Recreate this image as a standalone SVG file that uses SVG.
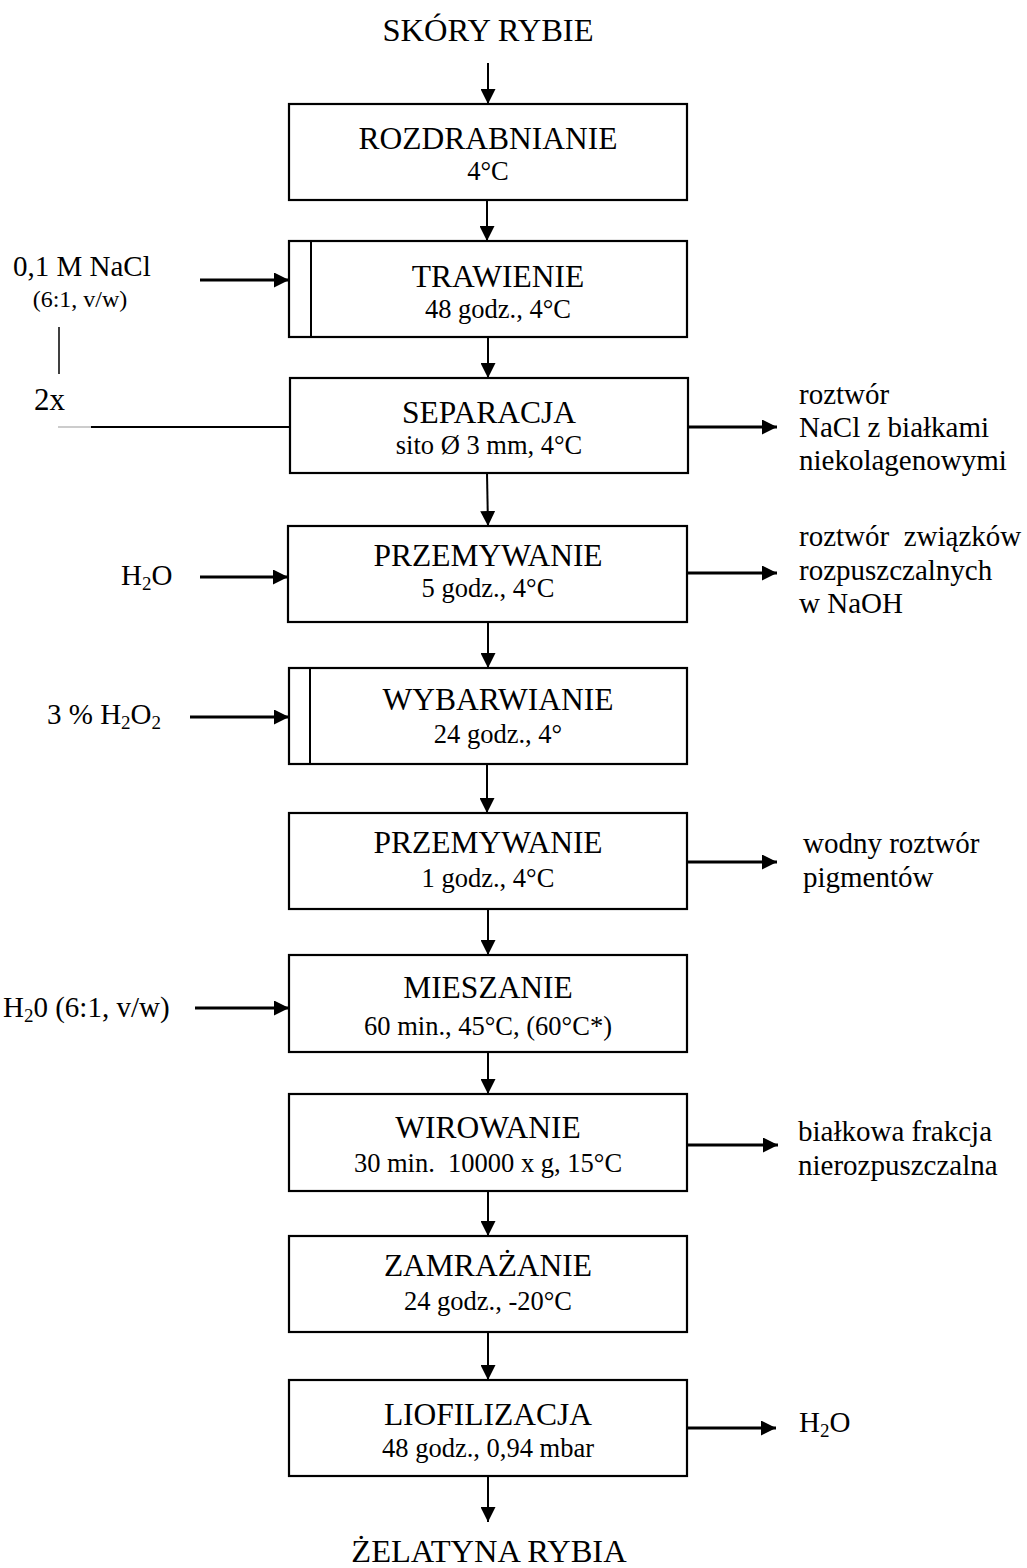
<svg xmlns="http://www.w3.org/2000/svg" width="1027" height="1568" viewBox="0 0 1027 1568">
<style>
text{font-family:"Liberation Serif","Times New Roman",serif;fill:#000}
.t{font-size:31.5px;text-anchor:middle}
.s{font-size:26.5px;text-anchor:middle}
.e{font-size:32.5px;text-anchor:middle}
.l{font-size:29px}
.box{fill:#fff;stroke:#000;stroke-width:2.2}
.v{stroke:#000;stroke-width:2;fill:none}
.h{stroke:#000;stroke-width:2.8;fill:none}
.sub{font-size:19px}
</style>
<defs>
<marker id="av" viewBox="0 0 15 15" refX="15" refY="7.5" markerWidth="15" markerHeight="15" markerUnits="userSpaceOnUse" orient="auto">
<path d="M0,0 L15,7.5 L0,15 z" fill="#000"/>
</marker>
<marker id="ah" viewBox="0 0 15 15" refX="15" refY="7.5" markerWidth="15" markerHeight="15" markerUnits="userSpaceOnUse" orient="auto">
<path d="M0,0 L15,7.5 L0,15 z" fill="#000"/>
</marker>
</defs>

<g id="start"><text class="e" x="488" y="41">SKÓRY RYBIE</text></g>

<g id="n1"><rect class="box" x="289" y="104" width="398" height="96"/><text class="t" x="488" y="149">ROZDRABNIANIE</text><text class="s" x="488" y="180">4°C</text></g>
<g id="n2"><rect class="box" x="289" y="241" width="398" height="96"/><line x1="311" y1="241" x2="311" y2="337" stroke="#000" stroke-width="2"/><text class="t" x="498" y="287">TRAWIENIE</text><text class="s" x="498" y="318">48 godz., 4°C</text></g>
<g id="n3"><rect class="box" x="290" y="378" width="398" height="95"/><text class="t" x="489" y="423">SEPARACJA</text><text class="s" x="489" y="454">sito Ø 3 mm, 4°C</text></g>
<g id="n4"><rect class="box" x="288" y="526" width="399" height="96"/><text class="t" x="488" y="566">PRZEMYWANIE</text><text class="s" x="488" y="597">5 godz., 4°C</text></g>
<g id="n5"><rect class="box" x="289" y="668" width="398" height="96"/><line x1="310" y1="668" x2="310" y2="764" stroke="#000" stroke-width="2"/><text class="t" x="498" y="710">WYBARWIANIE</text><text class="s" x="498" y="743">24 godz., 4°</text></g>
<g id="n6"><rect class="box" x="289" y="813" width="398" height="96"/><text class="t" x="488" y="853">PRZEMYWANIE</text><text class="s" x="488" y="887">1 godz., 4°C</text></g>
<g id="n7"><rect class="box" x="289" y="955" width="398" height="97"/><text class="t" x="488" y="998">MIESZANIE</text><text class="s" x="488" y="1035">60 min., 45°C, (60°C*)</text></g>
<g id="n8"><rect class="box" x="289" y="1094" width="398" height="97"/><text class="t" x="488" y="1138">WIROWANIE</text><text class="s" x="488" y="1172" xml:space="preserve">30 min.  10000 x g, 15°C</text></g>
<g id="n9"><rect class="box" x="289" y="1236" width="398" height="96"/><text class="t" x="488" y="1276">ZAMRAŻANIE</text><text class="s" x="488" y="1310">24 godz., -20°C</text></g>
<g id="n10"><rect class="box" x="289" y="1380" width="398" height="96"/><text class="t" x="488" y="1425">LIOFILIZACJA</text><text class="s" x="488" y="1457">48 godz., 0,94 mbar</text></g>

<g id="end"><text class="e" x="489" y="1562">ŻELATYNA RYBIA</text></g>

<g id="in1"><text class="l" x="13" y="276">0,1 M NaCl</text><text x="80" y="307" font-size="24" text-anchor="middle">(6:1, v/w)</text><text x="34" y="410" font-size="31">2x</text></g>
<g id="in2"><text class="l" x="121" y="585">H<tspan class="sub" dy="5">2</tspan><tspan dy="-5">O</tspan></text></g>
<g id="in3"><text class="l" x="47" y="724">3 % H<tspan class="sub" dy="5">2</tspan><tspan dy="-5">O</tspan><tspan class="sub" dy="5">2</tspan></text></g>
<g id="in4"><text class="l" x="3" y="1017">H<tspan class="sub" dy="5">2</tspan><tspan dy="-5">0 (6:1, v/w)</tspan></text></g>

<g id="out1"><text class="l" x="799" y="404">roztwór</text><text class="l" x="799" y="437">NaCl z białkami</text><text class="l" x="799" y="470">niekolagenowymi</text></g>
<g id="out2"><text class="l" x="799" y="546" xml:space="preserve">roztwór  związków</text><text class="l" x="799" y="580">rozpuszczalnych</text><text class="l" x="799" y="613">w NaOH</text></g>
<g id="out3"><text class="l" x="803" y="853">wodny roztwór</text><text class="l" x="803" y="887">pigmentów</text></g>
<g id="out4"><text class="l" x="798" y="1141">białkowa frakcja</text><text class="l" x="798" y="1175">nierozpuszczalna</text></g>
<g id="out5"><text class="l" x="799" y="1432">H<tspan class="sub" dy="5">2</tspan><tspan dy="-5">O</tspan></text></g>

<g id="connectors">
<line class="v" x1="488" y1="63" x2="488" y2="104" marker-end="url(#av)"/>
<line class="v" x1="487" y1="200" x2="487" y2="241" marker-end="url(#av)"/>
<line class="v" x1="488" y1="337" x2="488" y2="378" marker-end="url(#av)"/>
<line class="v" x1="487" y1="473" x2="488" y2="526" marker-end="url(#av)"/>
<line class="v" x1="488" y1="622" x2="488" y2="668" marker-end="url(#av)"/>
<line class="v" x1="487" y1="764" x2="487" y2="813" marker-end="url(#av)"/>
<line class="v" x1="488" y1="909" x2="488" y2="955" marker-end="url(#av)"/>
<line class="v" x1="488" y1="1052" x2="488" y2="1094" marker-end="url(#av)"/>
<line class="v" x1="488" y1="1191" x2="488" y2="1236" marker-end="url(#av)"/>
<line class="v" x1="488" y1="1332" x2="488" y2="1380" marker-end="url(#av)"/>
<line class="v" x1="488" y1="1476" x2="488" y2="1522" marker-end="url(#av)"/>

<line class="h" x1="200" y1="280" x2="289" y2="280" marker-end="url(#ah)"/>
<line class="h" x1="200" y1="577" x2="288" y2="577" marker-end="url(#ah)"/>
<line class="h" x1="190" y1="717" x2="289" y2="717" marker-end="url(#ah)"/>
<line class="h" x1="195" y1="1008" x2="289" y2="1008" marker-end="url(#ah)"/>

<line x1="59" y1="327" x2="59" y2="374" stroke="#000" stroke-width="1.5"/>
<line x1="58" y1="427" x2="91" y2="427" stroke="#999" stroke-width="1"/>
<line x1="91" y1="427" x2="290" y2="427" stroke="#000" stroke-width="2"/>

<line class="h" x1="688" y1="427" x2="777" y2="427" marker-end="url(#ah)"/>
<line class="h" x1="687" y1="573" x2="777" y2="573" marker-end="url(#ah)"/>
<line class="h" x1="687" y1="862" x2="777" y2="862" marker-end="url(#ah)"/>
<line class="h" x1="687" y1="1145" x2="778" y2="1145" marker-end="url(#ah)"/>
<line class="h" x1="687" y1="1428" x2="776" y2="1428" marker-end="url(#ah)"/>
</g>
</svg>
